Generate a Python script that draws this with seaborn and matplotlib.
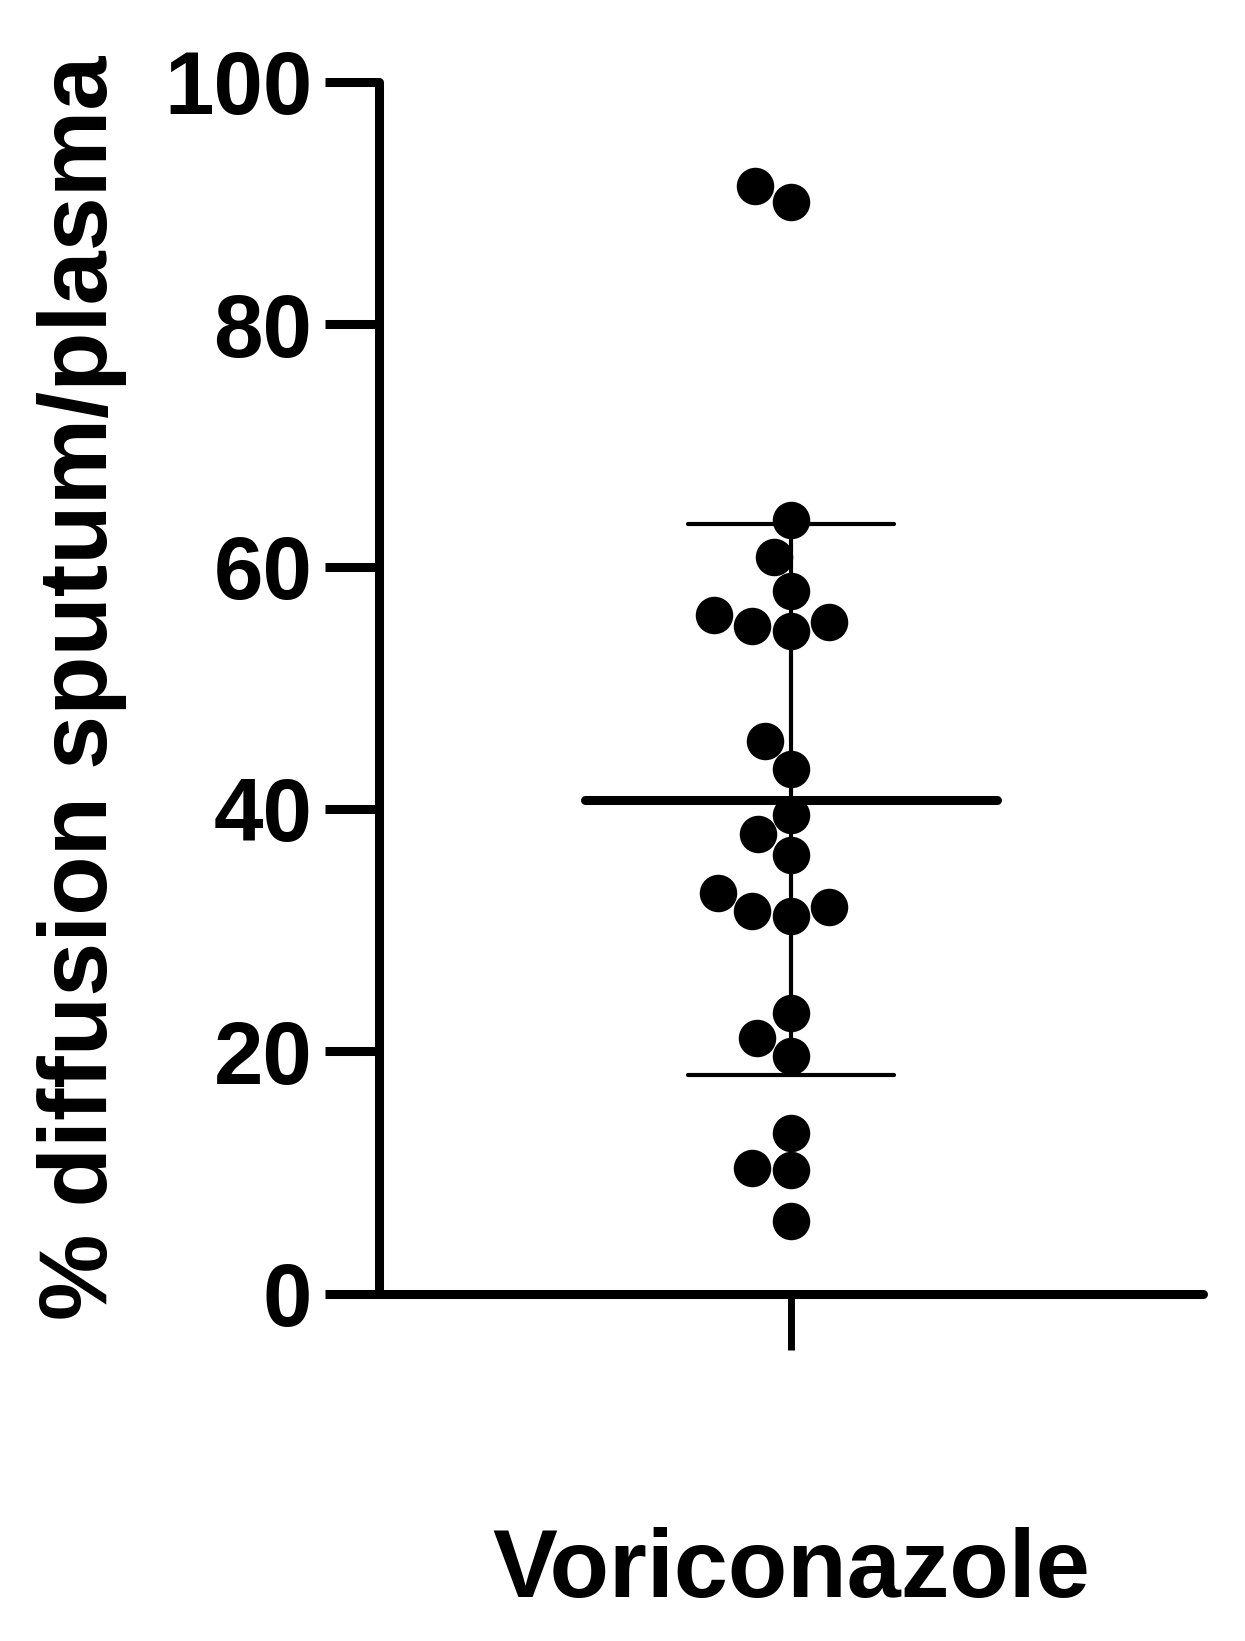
import numpy as np
import pandas as pd
import matplotlib
matplotlib.use('Agg')
import matplotlib.pyplot as plt
import seaborn as sns

# values (% diffusion sputum/plasma, one per patient)
drug = 'Voriconazole'
diffusion = [91.4, 90.1, 63.8, 60.8, 58.0, 54.7, 55.1, 55.4, 56.0, 45.6,
             43.3, 39.5, 37.9, 36.2, 33.1, 31.9, 31.2, 31.6, 23.2, 21.1,
             19.6, 13.3, 10.2, 10.4, 6.0]
y_ticks = [0, 20, 40, 60, 80, 100]

df = pd.DataFrame({'drug': drug, 'diffusion': diffusion})
mean = np.mean(diffusion)
sd = np.std(diffusion, ddof=1)

sns.set_style('ticks', rc={'axes.edgecolor': 'black', 'xtick.color': 'black',
                           'ytick.color': 'black', 'text.color': 'black',
                           'axes.labelcolor': 'black'})
plt.rcParams['font.family'] = ['Liberation Sans', 'DejaVu Sans']

fig = plt.figure(figsize=(12.45, 16.41), dpi=100)
ax = fig.add_axes([0.3044, 0.2115, 0.662, 0.7388])

sns.swarmplot(data=df, x='drug', y='diffusion', color='black', size=27,
              linewidth=0, ax=ax, zorder=3)

# mean line and SD bars
ax.hlines(mean, -0.25, 0.25, color='black', lw=6.5, capstyle='round', zorder=4)
ax.vlines(0, mean - sd, mean + sd, color='black', lw=3, zorder=2)
ax.hlines([mean - sd, mean + sd], -0.125, 0.125, color='black', lw=3,
          capstyle='round', zorder=2)

ax.set_xlim(-0.5, 0.5)
ax.set_ylim(0, 100)
ax.set_yticks(y_ticks)
ax.set_yticklabels([str(t) for t in y_ticks], fontsize=64, fontweight='bold')
ax.set_xticks([0])
ax.set_xticklabels([drug], fontsize=70, fontweight='bold')

ax.tick_params(axis='y', length=39, width=6.5, pad=9, direction='out')
ax.tick_params(axis='x', length=40, width=5, pad=128, direction='out')

for side in ['top', 'right']:
    ax.spines[side].set_visible(False)
for side in ['left', 'bottom']:
    ax.spines[side].set_linewidth(6.5)
    ax.spines[side].set_capstyle('round')

ax.set_xlabel('')
ax.set_ylabel('% diffusion sputum/plasma', fontsize=70, fontweight='bold',
              va='center')
ax.yaxis.set_label_coords(-0.36, 0.5)

fig.savefig('out.png', dpi=100)
